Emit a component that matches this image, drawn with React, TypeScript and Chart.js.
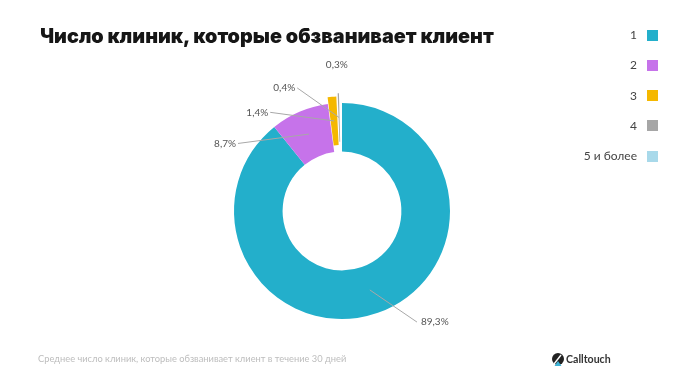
import React, { useEffect, useRef } from "react";
import { Chart, registerables } from "chart.js";

Chart.register(...registerables);

const categories = ["1", "2", "3", "4", "5 и более"];
const shares = [89.3, 8.7, 1.4, 0.4, 0.3];
const valueLabels = ["89,3%", "8,7%", "1,4%", "0,4%", "0,3%"];
const colors = ["#23afcb", "#c673ea", "#f5b800", "#a6a6a6", "#a8d9ea"];
const sliceOffsets = [0, 0, 14, 20, 54];
const titleText = "Число клиник, которые обзванивает клиент";
const footnoteText = "Среднее число клиник, которые обзванивает клиент в течение 30 дней";
const brandText = "Calltouch";

const labelPlugin = {
  id: "sliceLabels",
  afterDatasetsDraw(chart: any, _args: any, opts: any) {
    const ctx = chart.ctx;
    const meta = chart.getDatasetMeta(0);
    const ds = chart.data.datasets[0];
    ctx.save();
    ctx.font = opts.font;
    meta.data.forEach((arc: any, i: number) => {
      const p = arc.getProps(["x", "y", "startAngle", "endAngle", "innerRadius", "outerRadius"], true);
      const off = (Array.isArray(ds.offset) ? ds.offset[i] : 0) || 0;
      const circ = p.endAngle - p.startAngle;
      const disp = (off / 4) * (2 - Math.sin(Math.min(Math.PI, circ)));
      const mid = (p.startAngle + p.endAngle) / 2;
      const rA = (p.innerRadius + p.outerRadius) / 2 + disp;
      const ax = p.x + Math.cos(mid) * rA;
      const ay = p.y + Math.sin(mid) * rA;
      const la = mid + (opts.angleShift[i] * Math.PI) / 180;
      const rL = p.outerRadius + opts.extra[i];
      const lx = p.x + Math.cos(la) * rL;
      const ly = p.y + Math.sin(la) * rL;
      ctx.fillStyle = opts.color;
      const txt = chart.data.labelsText[i];
      if (opts.line[i]) {
        ctx.strokeStyle = opts.lineColor;
        ctx.lineWidth = 1;
        ctx.beginPath();
        ctx.moveTo(ax, ay);
        ctx.lineTo(lx, ly);
        ctx.stroke();
        ctx.textBaseline = "middle";
        if (lx < p.x) {
          ctx.textAlign = "right";
          ctx.fillText(txt, lx - 2, ly);
        } else {
          ctx.textAlign = "left";
          ctx.fillText(txt, lx + 4, ly);
        }
      } else {
        ctx.textAlign = "center";
        ctx.textBaseline = "middle";
        ctx.fillText(txt, lx, ly);
      }
    });
    ctx.restore();
  },
};

export default function App() {
  const canvasRef = useRef<HTMLCanvasElement | null>(null);

  useEffect(() => {
    if (!canvasRef.current) return;
    const chart = new Chart(canvasRef.current, {
      type: "doughnut",
      data: {
        labels: categories,
        labelsText: valueLabels,
        datasets: [
          {
            data: shares,
            backgroundColor: colors,
            borderWidth: 0,
            offset: sliceOffsets,
            hoverOffset: 0,
          },
        ],
      } as any,
      options: {
        responsive: false,
        animation: false,
        radius: 108,
        cutout: "55%",
        layout: { padding: { left: 142, right: 158, top: 61, bottom: 31 } },
        events: [],
        plugins: {
          legend: { display: false },
          tooltip: { enabled: false },
          sliceLabels: {
            font: "10px Lato",
            color: "#555",
            lineColor: "#a8a8a8",
            angleShift: [-14.6, -33.8, -31, -18.2, -1.5],
            extra: [26, 16, 14, 23, 38],
            line: [true, true, true, true, false],
          },
        } as any,
      } as any,
      plugins: [labelPlugin],
    });
    return () => chart.destroy();
  }, []);

  return (
    <div
      style={{
        position: "absolute",
        left: 0,
        top: 0,
        width: 700,
        height: 392,
        background: "#fff",
        overflow: "hidden",
        fontFamily: "Lato, sans-serif",
      }}
    >
      <canvas ref={canvasRef} width={700} height={392} style={{ position: "absolute", left: 0, top: 0 }} />
      <div
        style={{
          position: "absolute",
          left: 40,
          top: 21,
          fontFamily: "Inter, sans-serif",
          fontWeight: 900,
          fontSize: 19.8,
          lineHeight: "30px",
          color: "#161616",
          whiteSpace: "nowrap",
        }}
      >
        {titleText}
      </div>
      {categories.map((c, i) => (
        <div
          key={c}
          style={{
            position: "absolute",
            right: 700 - 637,
            top: 35 + i * 30.25 - 8,
            height: 16,
            lineHeight: "16px",
            fontSize: 12,
            color: "#444",
            whiteSpace: "nowrap",
          }}
        >
          {c}
        </div>
      ))}
      {categories.map((c, i) => (
        <div
          key={"b" + c}
          style={{
            position: "absolute",
            left: 647,
            top: 35 + i * 30.25 - 5.5,
            width: 11,
            height: 11,
            background: colors[i],
          }}
        />
      ))}
      <div
        style={{
          position: "absolute",
          left: 38,
          top: 352,
          fontSize: 9.3,
          lineHeight: "14px",
          color: "#bdbdbd",
          whiteSpace: "nowrap",
        }}
      >
        {footnoteText}
      </div>
      <svg width={14} height={16} style={{ position: "absolute", left: 551, top: 352 }} viewBox="0 0 14 16">
        <circle cx={7} cy={7} r={6} fill="#222" />
        <path d="M3 12 L10 3" stroke="#fff" strokeWidth={1.4} />
        <path d="M3.5 14 L7 9 L10.5 14 Z" fill="#3fb3d6" />
      </svg>
      <div
        style={{
          position: "absolute",
          left: 566,
          top: 352,
          fontSize: 10.6,
          lineHeight: "15px",
          fontWeight: 700,
          color: "#333",
          whiteSpace: "nowrap",
        }}
      >
        {brandText}
      </div>
    </div>
  );
}
